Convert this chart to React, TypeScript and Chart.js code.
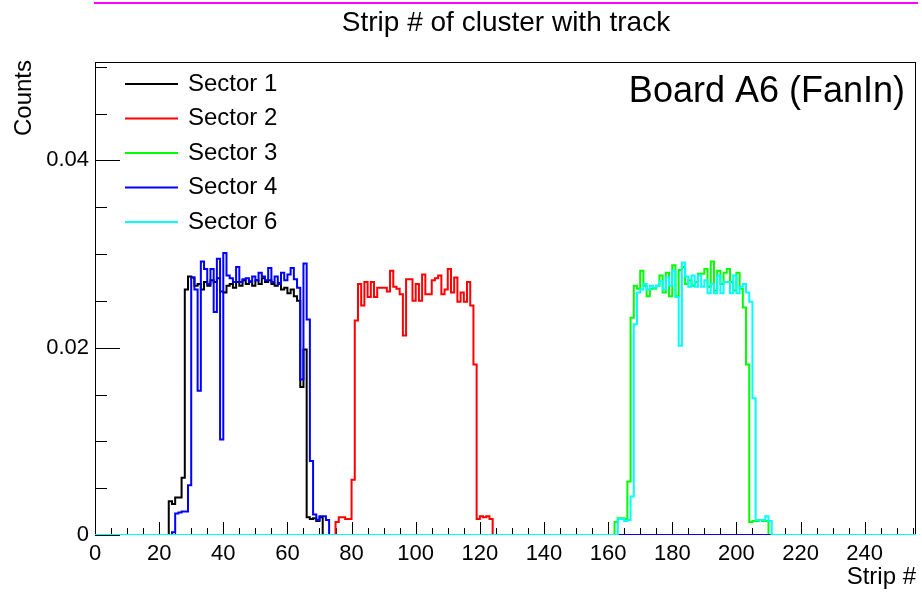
import React, { useEffect, useRef } from "react";
import { Chart, registerables } from "chart.js";

Chart.register(...registerables);

// Histogram binning: one bin per strip, strips 0..255
const STRIP_COUNT = 256;

// Normalised counts per strip, listed from the first non-empty strip
const sector1FirstStrip = 23;
const sector1Counts = [
  0.0036, 0.0033, 0.004, 0.004, 0.0061, 0.0262, 0.0276, 0.0275, 0.0266, 0.0268,
  0.0262, 0.027, 0.0266, 0.0272, 0.027, 0.0274, 0.026, 0.0259, 0.0266, 0.0268,
  0.0264, 0.027, 0.0266, 0.0272, 0.0268, 0.0271, 0.0266, 0.0272, 0.0268, 0.0274,
  0.027, 0.0272, 0.0268, 0.0266, 0.0269, 0.0262, 0.0264, 0.0258, 0.0262, 0.0255,
  0.025, 0.0158, 0.0198, 0.0019, 0.0017, 0.0018, 0.0015, 0.0019,
];

const sector2FirstStrip = 75;
const sector2Counts = [
  0.0014, 0.0019, 0.0019, 0.0017, 0.0017, 0.0059, 0.0229, 0.0268, 0.0245, 0.027,
  0.0254, 0.027, 0.0254, 0.0264, 0.0264, 0.0264, 0.026, 0.0282, 0.0265, 0.0263,
  0.0257, 0.0213, 0.0273, 0.0273, 0.025, 0.0268, 0.025, 0.0278, 0.0257, 0.0257,
  0.0272, 0.0274, 0.0277, 0.0257, 0.0262, 0.0284, 0.0259, 0.0275, 0.0249, 0.0259,
  0.0249, 0.027, 0.0245, 0.0182, 0.0017, 0.002, 0.0019, 0.002, 0.0017,
];

const sector3FirstStrip = 162;
const sector3Counts = [
  0.0014, 0.0018, 0.0018, 0.0017, 0.0057, 0.0232, 0.0266, 0.0263, 0.0282, 0.0266,
  0.0255, 0.0263, 0.0263, 0.0266, 0.0277, 0.0259, 0.028, 0.0255, 0.0288, 0.0255,
  0.0283, 0.0286, 0.0268, 0.0272, 0.0266, 0.027, 0.0279, 0.0279, 0.0284, 0.0265,
  0.0292, 0.0261, 0.0282, 0.0268, 0.028, 0.0284, 0.027, 0.0261, 0.028, 0.0263,
  0.0243, 0.0182, 0.0014, 0.0015, 0.0015, 0.0016, 0.0015, 0.0015,
];

const sector4FirstStrip = 24;
const sector4Counts = [
  0.0003, 0.0023, 0.0024, 0.0025, 0.0025, 0.0053, 0.0275, 0.0262, 0.0154, 0.0292,
  0.0284, 0.0268, 0.0284, 0.0238, 0.0295, 0.0102, 0.0301, 0.0277, 0.0274, 0.027,
  0.0286, 0.027, 0.0273, 0.0274, 0.027, 0.0276, 0.0272, 0.028, 0.0276, 0.0272,
  0.0285, 0.027, 0.0276, 0.0268, 0.028, 0.0272, 0.0278, 0.0285, 0.0273, 0.0264,
  0.0166, 0.029, 0.023, 0.0079, 0.0022, 0.0016, 0.002, 0.002, 0.0016,
];

const sector6FirstStrip = 163;
const sector6Counts = [
  0.0017, 0.0017, 0.0015, 0.0016, 0.0041, 0.0225, 0.0259, 0.0262, 0.0268, 0.0262,
  0.0266, 0.0264, 0.0266, 0.0271, 0.0262, 0.0275, 0.0266, 0.0282, 0.0254, 0.0202,
  0.0291, 0.0276, 0.0265, 0.0277, 0.0265, 0.0277, 0.0265, 0.0272, 0.0258, 0.0268,
  0.0258, 0.0277, 0.0258, 0.027, 0.027, 0.0258, 0.0277, 0.0258, 0.0265, 0.0268,
  0.0259, 0.0249, 0.0146, 0.0016, 0.0016, 0.0016, 0.002, 0.0015,
];

const sectorNames = ["Sector 1", "Sector 2", "Sector 3", "Sector 4", "Sector 6"];
const sectorColors = ["#000000", "#ff0000", "#00ff00", "#0000ff", "#00ffff"];
const sectorFirstStrips = [sector1FirstStrip, sector2FirstStrip, sector3FirstStrip, sector4FirstStrip, sector6FirstStrip];
const sectorCounts = [sector1Counts, sector2Counts, sector3Counts, sector4Counts, sector6Counts];

// Axis labels
const xLabelTicks = [0, 20, 40, 60, 80, 100, 120, 140, 160, 180, 200, 220, 240];
const yLabelTicks = [0, 0.02, 0.04];
const X_MAX = 256;
const Y_MAX = 0.0505;

const FONT = "'Liberation Sans', Arial, Helvetica, sans-serif";

// Full-range histogram as step points on the bin edges
function histogramPoints(first: number, counts: number[]) {
  const pts: { x: number; y: number }[] = [];
  for (let s = 0; s <= STRIP_COUNT; s++) {
    const bin = Math.min(s, STRIP_COUNT - 1);
    const i = bin - first;
    pts.push({ x: s, y: i >= 0 && i < counts.length ? counts[i] : 0 });
  }
  return pts;
}

const frameAndTicks = {
  id: "frameAndTicks",
  beforeDatasetsDraw(chart: any) {
    const { ctx, chartArea: a, scales } = chart;
    ctx.save();
    ctx.strokeStyle = "#000";
    ctx.lineWidth = 1;
    ctx.strokeRect(a.left + 0.5, a.top + 0.5, a.right - a.left - 1, a.bottom - a.top - 1);
    ctx.beginPath();
    // y-axis ticks: minor every 0.005, major every 0.02
    for (let k = 0; k * 0.005 <= Y_MAX; k++) {
      const y = Math.round(scales.y.getPixelForValue(k * 0.005)) + 0.5;
      const len = k % 4 === 0 ? 25 : 12;
      ctx.moveTo(a.left, y);
      ctx.lineTo(a.left + len, y);
    }
    // x-axis ticks: minor every 5, major every 20
    for (let v = 0; v <= X_MAX; v += 5) {
      const x = Math.round(scales.x.getPixelForValue(v)) + 0.5;
      const len = v % 20 === 0 ? 13 : 7;
      ctx.moveTo(x, a.bottom);
      ctx.lineTo(x, a.bottom - len);
    }
    ctx.stroke();
    ctx.restore();
  },
  afterDraw(chart: any) {
    const { ctx, chartArea: a } = chart;
    ctx.save();
    // Pad marker line
    ctx.fillStyle = "#ff00ff";
    ctx.fillRect(94, 2, 824, 2);

    ctx.fillStyle = "#000";
    ctx.textBaseline = "alphabetic";
    ctx.font = `28px ${FONT}`;
    ctx.textAlign = "center";
    ctx.fillText("Strip # of cluster with track", 506, 31);

    ctx.font = `24px ${FONT}`;
    ctx.textAlign = "right";
    ctx.fillText("Strip #", a.right, 584);

    ctx.save();
    ctx.translate(31, 60);
    ctx.rotate(-Math.PI / 2);
    ctx.textAlign = "right";
    ctx.fillText("Counts", 0, 0);
    ctx.restore();

    ctx.font = `36px ${FONT}`;
    ctx.textAlign = "right";
    ctx.fillText("Board A6 (FanIn)", 905, 102);

    // Legend
    ctx.font = `24px ${FONT}`;
    ctx.textAlign = "left";
    ctx.textBaseline = "middle";
    sectorNames.forEach((name, i) => {
      const y = 84 + i * 34.5;
      ctx.strokeStyle = sectorColors[i];
      ctx.lineWidth = 2;
      ctx.beginPath();
      ctx.moveTo(125, y);
      ctx.lineTo(178, y);
      ctx.stroke();
      ctx.fillStyle = "#000";
      ctx.fillText(name, 188, y);
    });
    ctx.restore();
  },
};

export default function App() {
  const canvasRef = useRef<HTMLCanvasElement | null>(null);

  useEffect(() => {
    const canvas = canvasRef.current;
    if (!canvas) return;
    Chart.defaults.font.family = FONT;
    const datasets = sectorNames.map((name, i) => ({
      label: name,
      data: histogramPoints(sectorFirstStrips[i], sectorCounts[i]),
      borderColor: sectorColors[i],
      backgroundColor: sectorColors[i],
      borderWidth: 2,
      pointRadius: 0,
      stepped: "before" as const,
      fill: false,
      order: sectorNames.length - i,
    }));
    const chart = new Chart(canvas, {
      type: "line",
      data: { datasets },
      options: {
        responsive: false,
        animation: false,
        devicePixelRatio: 1,
        layout: { padding: { top: 62, right: 4, left: 0, bottom: 0 } },
        plugins: {
          legend: { display: false },
          tooltip: { enabled: false },
          title: { display: false },
        },
        scales: {
          x: {
            type: "linear",
            min: 0,
            max: X_MAX,
            grid: { display: false, drawTicks: false },
            border: { display: false },
            ticks: {
              stepSize: 5,
              autoSkip: false,
              maxRotation: 0,
              padding: 6,
              color: "#000",
              font: { size: 22, family: FONT },
              callback: (v: any) => (xLabelTicks.includes(Number(v)) ? String(v) : ""),
            },
            afterFit: (s: any) => {
              s.height = 57;
            },
          },
          y: {
            type: "linear",
            min: 0,
            max: Y_MAX,
            grid: { display: false, drawTicks: false },
            border: { display: false },
            ticks: {
              stepSize: 0.005,
              autoSkip: false,
              padding: 6,
              color: "#000",
              font: { size: 22, family: FONT },
              callback: (v: any) => {
                const n = Number(v);
                const hit = yLabelTicks.find((t) => Math.abs(t - n) < 1e-9);
                if (hit === undefined) return "";
                return hit === 0 ? "0" : hit.toFixed(2);
              },
            },
            afterFit: (s: any) => {
              s.width = 95;
            },
          },
        },
      },
      plugins: [frameAndTicks],
    });
    return () => chart.destroy();
  }, []);

  return (
    <div style={{ position: "absolute", left: 0, top: 0, width: 922, height: 592, background: "#fff" }}>
      <canvas ref={canvasRef} width={922} height={592} style={{ display: "block" }} />
    </div>
  );
}
